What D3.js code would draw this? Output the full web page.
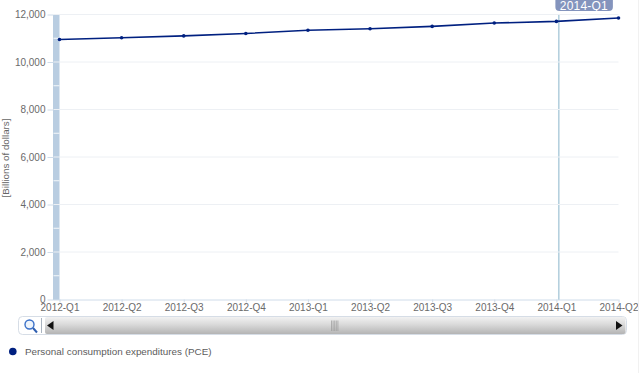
<!DOCTYPE html>
<html>
<head>
<meta charset="utf-8">
<script src="https://cdn.jsdelivr.net/npm/d3@7"></script>
<style>
html, body { margin: 0; padding: 0; background: #fff; overflow: hidden; }
text { font-family: "Liberation Sans", Arial, sans-serif; }
</style>
</head>
<body>
<div id="chart-area"></div>
<script>
var categories = ["2012-Q1", "2012-Q2", "2012-Q3", "2012-Q4", "2013-Q1", "2013-Q2", "2013-Q3", "2013-Q4", "2014-Q1", "2014-Q2"];
var pce = [10950, 11020, 11100, 11200, 11340, 11400, 11500, 11640, 11710, 11850];
var yTicks = [0, 2000, 4000, 6000, 8000, 10000, 12000];
var yMinorTicks = [1000, 3000, 5000, 7000, 9000, 11000];
var highlighted = "2014-Q1";
var seriesName = "Personal consumption expenditures (PCE)";
var yTitle = "[Billions of dollars]";

var width = 640;
var height = 373;
var plotLeft = 59.5, plotRight = 618.5, plotTop = 14.5, plotBottom = 299.5;

var svg = d3.select("#chart-area")
    .append("svg")
        .attr("width", width)
        .attr("height", height)
        .style("display", "block");

var defs = svg.append("defs");
var barGrad = defs.append("linearGradient")
    .attr("id", "barGrad")
    .attr("x1", 0).attr("y1", 0).attr("x2", 0).attr("y2", 1);
barGrad.append("stop").attr("offset", "0%").attr("stop-color", "#f2f2f2");
barGrad.append("stop").attr("offset", "45%").attr("stop-color", "#d9d9d9");
barGrad.append("stop").attr("offset", "100%").attr("stop-color", "#b4b4b4");

var x = d3.scalePoint().domain(categories).range([plotLeft, plotRight]);
var y = d3.scaleLinear().domain([0, 12000]).range([plotBottom, plotTop]);

// scroll position bands
svg.append("rect")
    .attr("x", x(categories[0]) - 6.5)
    .attr("y", plotTop + 0.5)
    .attr("width", 6.5)
    .attr("height", plotBottom - plotTop)
    .attr("fill", "#b9cde1");

svg.append("rect")
    .attr("x", x(highlighted) + 1.6)
    .attr("y", plotTop + 0.5)
    .attr("width", 1.6)
    .attr("height", plotBottom - plotTop)
    .attr("fill", "#b5d0de");

// grid
svg.append("g")
    .selectAll("line")
    .data(yTicks.slice(1))
    .enter().append("line")
        .attr("x1", plotLeft - 6)
        .attr("x2", plotRight)
        .attr("y1", (d) => { return y(d); })
        .attr("y2", (d) => { return y(d); })
        .attr("stroke", "#edf0f4")
        .attr("stroke-width", 1);

svg.append("g")
    .selectAll("line")
    .data(yMinorTicks)
    .enter().append("line")
        .attr("x1", plotLeft - 6)
        .attr("x2", plotLeft)
        .attr("y1", (d) => { return y(d); })
        .attr("y2", (d) => { return y(d); })
        .attr("stroke", "#f6f8fa")
        .attr("stroke-width", 1);

// axes
var xAxisCall = d3.axisBottom(x).tickSize(3).tickPadding(1);
var xAxisGroup = svg.append("g")
    .attr("transform", "translate(0, " + plotBottom + ")")
    .call(xAxisCall);
xAxisGroup.select(".domain").attr("stroke", "#cfdcea").attr("d", "M" + (plotLeft - 6) + ",0.5H" + plotRight);
xAxisGroup.selectAll(".tick line").attr("stroke", "#cfdcea");
xAxisGroup.selectAll("text")
    .attr("font-size", "10px")
    .attr("fill", "#6a6a6a")
    .style("font-family", '"Liberation Sans", Arial, sans-serif');

var yAxisCall = d3.axisLeft(y)
    .tickValues(yTicks)
    .tickFormat(d3.format(","))
    .tickSize(6)
    .tickPadding(2);
var yAxisGroup = svg.append("g")
    .attr("transform", "translate(" + (plotLeft - 6) + ", 0)")
    .call(yAxisCall);
yAxisGroup.select(".domain").remove();
yAxisGroup.selectAll(".tick line").attr("stroke", "#cfdcea");
yAxisGroup.selectAll("text")
    .attr("font-size", "10px")
    .attr("fill", "#6a6a6a")
    .style("font-family", '"Liberation Sans", Arial, sans-serif');

svg.append("text")
    .attr("transform", "translate(8.5, 158) rotate(-90)")
    .attr("text-anchor", "middle")
    .attr("font-size", "9.8px")
    .attr("fill", "#666")
    .text(yTitle);

// series
var line = d3.line()
    .x((d, i) => { return x(categories[i]); })
    .y((d) => { return y(d); });

svg.append("path")
    .datum(pce)
    .attr("d", line)
    .attr("fill", "none")
    .attr("stroke", "#002080")
    .attr("stroke-width", 1.6);

svg.append("g")
    .selectAll("circle")
    .data(pce)
    .enter().append("circle")
        .attr("cx", (d, i) => { return x(categories[i]); })
        .attr("cy", (d) => { return y(d); })
        .attr("r", 1.8)
        .attr("fill", "#002080");

// tooltip label
var tip = svg.append("g");
tip.append("rect")
    .attr("x", x(highlighted) - 1)
    .attr("y", -4)
    .attr("width", 57.5)
    .attr("height", 15)
    .attr("rx", 4)
    .attr("fill", "#8494bd");
tip.append("text")
    .attr("x", x(highlighted) + 27.5)
    .attr("y", 9.5)
    .attr("text-anchor", "middle")
    .attr("font-size", "12px")
    .attr("letter-spacing", "0.2px")
    .attr("fill", "#fff")
    .text(highlighted);

// scroller
var sy = 317, sh = 17;
svg.append("rect")
    .attr("x", 18.5).attr("y", sy - 0.5)
    .attr("width", 608).attr("height", sh + 1)
    .attr("rx", 4)
    .attr("fill", "#fff")
    .attr("stroke", "#d6dde6");
svg.append("rect")
    .attr("x", 45).attr("y", sy)
    .attr("width", 580.5).attr("height", sh)
    .attr("rx", 2)
    .attr("fill", "url(#barGrad)");
svg.append("line")
    .attr("x1", 41.5).attr("x2", 41.5)
    .attr("y1", sy + 1).attr("y2", sy + sh - 1)
    .attr("stroke", "#aab4c0");

// magnifier
svg.append("circle")
    .attr("cx", 29.5).attr("cy", 324.5)
    .attr("r", 4.5)
    .attr("fill", "#eef4fb")
    .attr("stroke", "#3a70c8")
    .attr("stroke-width", 1.4);
svg.append("line")
    .attr("x1", 33).attr("y1", 328)
    .attr("x2", 37).attr("y2", 332.5)
    .attr("stroke", "#2f5fb0")
    .attr("stroke-width", 2);

// arrows and grip
svg.append("path").attr("d", "M47,325.5L53.5,321V330Z").attr("fill", "#111");
svg.append("path").attr("d", "M622.5,325.5L616,321V330Z").attr("fill", "#111");
svg.append("g")
    .selectAll("line")
    .data(d3.range(5))
    .enter().append("line")
        .attr("x1", (d) => { return 331.5 + d * 1.6; })
        .attr("x2", (d) => { return 331.5 + d * 1.6; })
        .attr("y1", 320.5)
        .attr("y2", 331)
        .attr("stroke", "#9a9a9a")
        .attr("stroke-width", 0.7);

// legend
svg.append("circle")
    .attr("cx", 12.8).attr("cy", 351.5)
    .attr("r", 3.8)
    .attr("fill", "#002080");
svg.append("text")
    .attr("x", 25)
    .attr("y", 355)
    .attr("font-size", "9.9px")
    .attr("fill", "#5c5c5c")
    .text(seriesName);

// right edge of the frame
svg.append("line")
    .attr("x1", 638.5).attr("x2", 638.5)
    .attr("y1", 0).attr("y2", height)
    .attr("stroke", "#f1f1f1");
</script>
</body>
</html>
